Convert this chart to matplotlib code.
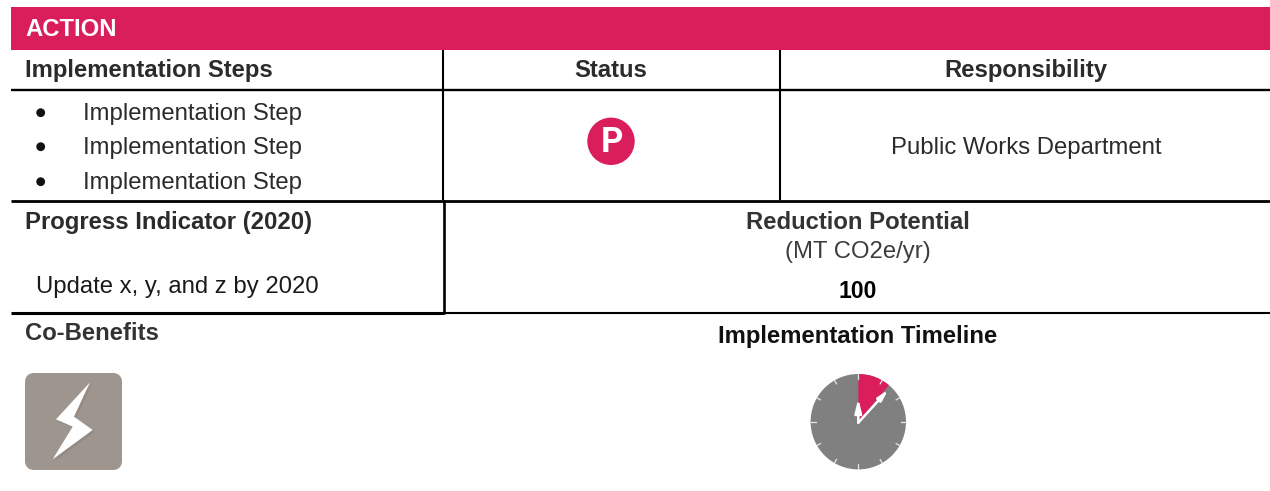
import numpy as np
import matplotlib
matplotlib.use("Agg")
import matplotlib.pyplot as plt
from matplotlib.patches import Rectangle, Circle, Wedge, Polygon, FancyBboxPatch

plt.rcParams['font.family'] = ['Liberation Sans', 'DejaVu Sans']

PINK = '#d91e5b'
DARK = '#2b2b2b'
GREY = '#808080'
TAUPE = '#9e958e'
FS = 17.2
FSB = 17.2

title = "ACTION"
headers = ["Implementation Steps", "Status", "Responsibility"]
steps = ["Implementation Step", "Implementation Step", "Implementation Step"]
status = "P"
responsibility = "Public Works Department"
indicator_title = "Progress Indicator (2020)"
indicator_text = "Update x, y, and z by 2020"
reduction_title = "Reduction Potential"
reduction_unit = "(MT CO2e/yr)"
reduction_value = "100"
benefits_title = "Co-Benefits"
timeline_title = "Implementation Timeline"
timeline_wedge_deg = 40

fig = plt.figure(figsize=(12.7, 4.91), dpi=100)
ax = fig.add_axes([0, 0, 1, 1])
ax.set_xlim(0, 1270)
ax.set_ylim(491, 0)
ax.axis('off')

# pink title band
ax.add_patch(Rectangle((11, 7), 1259, 43, fc=PINK, ec='none'))
ax.text(25, 35.7, title, color='white', fontsize=FSB, fontweight='bold')

# table rules
def hline(y, x0, x1, lw=2.0, c='black'):
    ax.plot([x0, x1], [y, y], color=c, lw=lw, solid_capstyle='butt')

def vline(x, y0, y1, lw=1.5):
    ax.plot([x, x], [y0, y1], color='black', lw=lw, solid_capstyle='butt')

hline(89.5, 11, 1270, lw=1.7)
hline(200.5, 11, 1270)
hline(313, 11, 444, lw=2.2)
hline(312.8, 444, 1270, lw=1.5)
vline(443, 49.5, 200)
vline(779.5, 49.5, 200)
vline(444, 200, 314, lw=1.9)

# headers
ax.text(25, 77.3, headers[0], color=DARK, fontsize=FSB, fontweight='bold')
ax.text(611, 77.3, headers[1], color=DARK, fontsize=FSB, fontweight='bold', ha='center')
ax.text(1026, 77.3, headers[2], color=DARK, fontsize=FSB, fontweight='bold', ha='center')

# bullets
step_y = [120, 154, 189]
bullet_y = [112.7, 146.7, 181.7]
for s, y, by in zip(steps, step_y, bullet_y):
    ax.add_patch(Circle((40.7, by), 4.4, fc='#111111', ec='none'))
    ax.text(83, y, s, color=DARK, fontsize=FS)

# status badge
ax.add_patch(Circle((611, 141.3), 23.7, fc=PINK, ec='none'))
ax.text(611.7, 142.5, status, color='white', fontsize=25, fontweight='bold', va='center', ha='center',
        family=['Roboto', 'DejaVu Sans'])

ax.text(1026, 154, responsibility, color=DARK, fontsize=FS, ha='center')

# second row
ax.text(25, 229, indicator_title, color=DARK, fontsize=FSB, fontweight='bold')
ax.text(36, 292.7, indicator_text, color='#1a1a1a', fontsize=FS)
ax.text(858, 229.3, reduction_title, color='#333333', fontsize=FSB, fontweight='bold', ha='center')
ax.text(858, 258, reduction_unit, color='#3c3c3c', fontsize=FS, ha='center')
ax.text(858, 297.7, reduction_value, color='black', fontsize=16.6, fontweight='bold', ha='center')

# bottom row
ax.text(25, 340, benefits_title, color='#333333', fontsize=FSB, fontweight='bold')
ax.text(858, 343.3, timeline_title, color='#111111', fontsize=FSB, fontweight='bold', ha='center')

# co-benefit icon
ax.add_patch(FancyBboxPatch((29, 377), 89, 89, boxstyle='round,pad=0,rounding_size=5',
                            fc=TAUPE, ec=TAUPE, lw=8 * 0.72, joinstyle='round'))
bolt = np.array([[240, 67], [138, 178], [188, 200], [128, 298], [248, 210], [192, 170]]) / 3 + [10, 360]
ax.add_patch(Polygon(bolt + [2, 2], fc='#8a817a', ec='none', alpha=0.5))
ax.add_patch(Polygon(bolt, fc='white', ec='none'))

# clock
cx, cy, r = 858.3, 421.7, 47.7
ax.add_patch(Circle((cx, cy), r, fc=GREY, ec='none'))
# y axis is inverted, so the wedge runs from -90 (12 o'clock) clockwise on screen
ax.add_patch(Wedge((cx, cy), r, -90, -90 + timeline_wedge_deg, fc=PINK, ec='none'))
for a in np.arange(0, 360, 30):
    dx, dy = np.sin(np.radians(a)), -np.cos(np.radians(a))
    r0 = r - (5 if a % 90 == 0 else 4)
    ax.plot([cx + r0 * dx, cx + r * dx], [cy + r0 * dy, cy + r * dy], color='#e6e6e6', lw=0.9)
ax.annotate('', xy=(cx, cy - 23), xytext=(cx, cy + 1),
            arrowprops=dict(arrowstyle='-|>,head_length=0.4,head_width=0.1', color='white', lw=1.8,
                            mutation_scale=20, shrinkA=0, shrinkB=0))
ax.annotate('', xy=(cx + 30, cy - 32), xytext=(cx, cy + 1),
            arrowprops=dict(arrowstyle='-|>,head_length=0.4,head_width=0.1', color='white', lw=1.8,
                            mutation_scale=16, shrinkA=0, shrinkB=0))

fig.savefig('out.png', dpi=100)
